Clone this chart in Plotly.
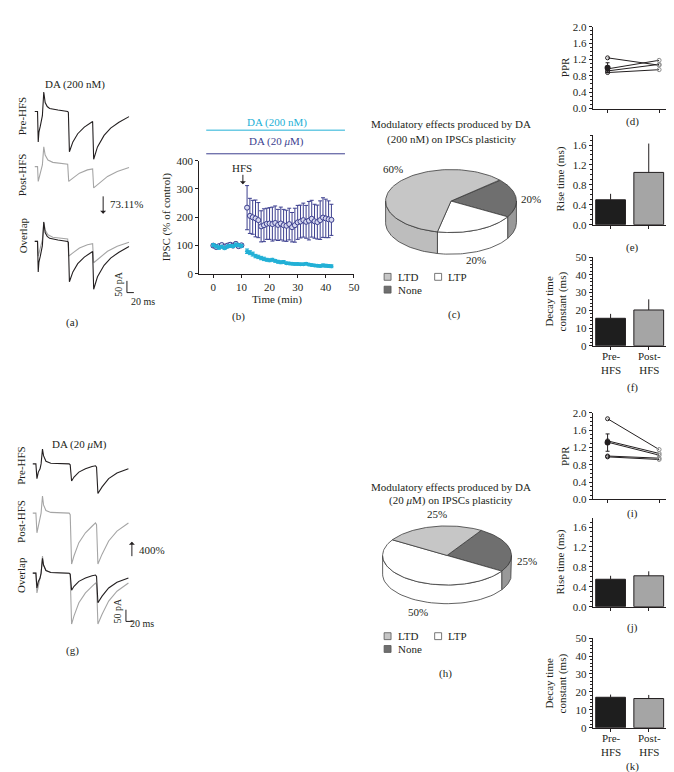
import numpy as np
import plotly.graph_objects as go

W, H = 674, 772
FONT = 'Liberation Serif'
INK = '#231f20'
GREY = '#a5a5a5'
CYAN = '#22b0d6'
NAVY = '#3c3f8f'

# ---------------- data ----------------
# (a) DA 200 nM example traces: time (ms), current (pA)
pre_a_t = [0, 8, 10, 12, 16, 22, 26, 30, 36, 43, 67, 95, 97, 100, 110, 124, 143, 162, 167, 170, 181, 200, 219, 243, 272]
pre_a_i = [0, 0, -130, -88, -63, -18, 83, 38, 21, 13, 6, 0, -4, -172, -130, -95, -67, -49, -43, -204, -151, -102, -71, -46, -22]
post_a_t = [0, 8, 10, 14, 19, 22, 26, 30, 38, 52, 95, 98, 110, 129, 152, 167, 170, 186, 210, 238, 272]
post_a_i = [0, 0, -63, -35, -14, 7, 84, 49, 28, 18, 10, -63, -49, -28, -14, -10, -91, -70, -42, -21, -4]

# (g) DA 20 uM example traces
pre_g_t = [0, 9, 12, 16, 21, 24, 28, 31, 38, 52, 105, 108, 112, 119, 133, 152, 171, 181, 184, 188, 200, 219, 243, 276]
pre_g_i = [0, 0, -63, -35, -21, 0, 63, 35, 11, 3, 0, -4, -73, -56, -35, -21, -11, -8, -14, -126, -98, -63, -39, -21]
post_g_t = [0, 9, 12, 16, 21, 24, 28, 31, 38, 52, 105, 108, 112, 119, 133, 152, 171, 181, 184, 188, 200, 219, 243, 276]
post_g_i = [0, 0, -84, -56, -21, 0, 73, 35, 11, 3, 0, -7, -217, -182, -126, -84, -56, -42, -49, -217, -175, -119, -77, -42]

# (b) IPSC time course (% of control)
time_pre = [0, 1, 2, 3, 4, 5, 6, 7, 8, 9, 10]
time_post = [12, 13, 14, 15, 16, 17, 18, 19, 20, 21, 22, 23, 24, 25, 26, 27, 28, 29, 30,
             31, 32, 33, 34, 35, 36, 37, 38, 39, 40, 41, 42]
da200_pre = [102, 97, 93, 96, 91, 97, 99, 98, 103, 101, 99]
da200_pre_err = [5, 5, 6, 5, 5, 5, 5, 5, 6, 5, 5]
da200_post = [80, 75, 70, 63, 60, 56, 53, 50, 48, 50, 46, 43, 41, 42, 38, 37, 36, 35, 35, 34,
              34, 36, 33, 31, 30, 29, 28, 30, 29, 28, 27]
da200_post_err = [8, 7, 7, 6, 6, 6, 6, 5, 5, 5, 5, 5, 5, 5, 4, 4, 4, 4, 4, 4,
                  4, 4, 4, 4, 4, 4, 4, 5, 5, 5, 5]
da20_pre = [100, 95, 98, 102, 96, 100, 103, 100, 106, 98, 101]
da20_pre_err = [6, 5, 6, 5, 6, 5, 6, 5, 6, 6, 5]
da20_post = [234, 205, 200, 196, 190, 168, 172, 177, 178, 176, 180, 173, 178, 172, 170, 176,
             165, 172, 182, 185, 190, 184, 188, 195, 186, 183, 190, 199, 196, 193, 191]
da20_post_err = [78, 62, 60, 65, 62, 55, 58, 55, 56, 60, 60, 55, 58, 56, 55, 56,
                 52, 60, 60, 58, 60, 58, 68, 65, 60, 60, 68, 70, 68, 65, 55]

# (c), (h) pies
pie_labels = ['LTD', 'LTP', 'None']
pie_200 = [60, 20, 20]
pie_20 = [25, 50, 25]

# (d), (i) paired-pulse ratio per cell
ppr_200_pre = [1.24, 0.97, 0.92, 0.88]
ppr_200_post = [1.06, 1.18, 1.08, 0.95]
ppr_200_mean, ppr_200_sem = 1.00, 0.12
ppr_20_pre = [1.86, 1.35, 1.32, 1.00, 0.98]
ppr_20_post = [1.15, 1.06, 1.02, 0.95, 0.92]
ppr_20_mean, ppr_20_sem = 1.31, 0.20

# (e), (f), (j), (k) kinetics
groups = ['Pre-<br>HFS', 'Post-<br>HFS']
rise_200, rise_200_err = [0.50, 1.05], [0.12, 0.58]
decay_200, decay_200_err = [15.5, 20.2], [2.5, 6.0]
rise_20, rise_20_err = [0.55, 0.62], [0.07, 0.09]
decay_20, decay_20_err = [17.0, 16.3], [1.5, 2.0]

# ---------------- layout helpers ----------------
MS_PER_PX, PA_PER_PX = 2.86, 4.2
axes = {}


def ref(n):
    return ('x', 'y') if n == 1 else (f'x{n}', f'y{n}')


def add_axes(n, x0, x1, y0, y1, xr, yr, xs=None, ys=None):
    xn, yn = ('xaxis', 'yaxis') if n == 1 else (f'xaxis{n}', f'yaxis{n}')
    xa, ya = ref(n)
    base = dict(showgrid=False, zeroline=False, fixedrange=True, visible=False)
    axes[xn] = dict(base, domain=[x0 / W, x1 / W], range=xr, anchor=ya)
    axes[yn] = dict(base, domain=[1 - y1 / H, 1 - y0 / H], range=yr, anchor=xa)
    if xs is not None:
        axes[xn].update(xs, visible=True)
    if ys is not None:
        axes[yn].update(ys, visible=True)


def style(**kw):
    d = dict(showline=True, linecolor=INK, linewidth=1, ticks='outside', ticklen=3,
             tickwidth=1, tickcolor=INK, tickfont=dict(family=FONT, size=11, color=INK))
    d.update(kw)
    return d


annots = []
shapes = []


def text(x, y, s, size=11, color=INK, angle=0, anchor='center'):
    annots.append(dict(x=x / W, y=1 - y / H, xref='paper', yref='paper', text=s,
                       showarrow=False, textangle=angle, xanchor=anchor, yanchor='middle',
                       font=dict(family=FONT, size=size, color=color)))


def arrow(x, y_tail, y_head, color=INK):
    annots.append(dict(x=x / W, y=1 - y_head / H, xref='paper', yref='paper', text='',
                       showarrow=True, ax=0, ay=y_tail - y_head, arrowhead=1,
                       arrowsize=1, arrowwidth=1, arrowcolor=color))


fig = go.Figure()

# ---------------- (a) and (g) traces ----------------
def trace_panel(n, top, t0_px, rows, pre_t, pre_i, post_t, post_i, bar_px):
    add_axes(n, 20, 150, top, top + 240,
             [(20 - t0_px) * MS_PER_PX, (150 - t0_px) * MS_PER_PX],
             [-240 * PA_PER_PX, 0])
    xa, ya = ref(n)
    off = [-(r - top) * PA_PER_PX for r in rows]
    pre_i, post_i = np.array(pre_i), np.array(post_i)
    fig.add_trace(go.Scatter(x=pre_t, y=pre_i + off[0], mode='lines',
                             line=dict(color=INK, width=1.1), xaxis=xa, yaxis=ya))
    fig.add_trace(go.Scatter(x=post_t, y=post_i + off[1], mode='lines',
                             line=dict(color=GREY, width=1.1), xaxis=xa, yaxis=ya))
    fig.add_trace(go.Scatter(x=post_t, y=post_i + off[2], mode='lines',
                             line=dict(color=GREY, width=1.1), xaxis=xa, yaxis=ya))
    fig.add_trace(go.Scatter(x=pre_t, y=pre_i + off[2], mode='lines',
                             line=dict(color=INK, width=1.1), xaxis=xa, yaxis=ya))
    bx = (bar_px[0] - t0_px) * MS_PER_PX
    by = -(bar_px[1] - top) * PA_PER_PX
    fig.add_trace(go.Scatter(x=[bx, bx, bx + 20], y=[by + 50, by, by], mode='lines',
                             line=dict(color=INK, width=1), xaxis=xa, yaxis=ya))


trace_panel(1, 60, 27, [99, 155, 231], pre_a_t, pre_a_i, post_a_t, post_a_i, (120, 283))
trace_panel(6, 420, 25, [457, 507, 568], pre_g_t, pre_g_i, post_g_t, post_g_i, (119, 617))

text(68, 72, 'DA (200 nM)')
text(15, 103, 'Pre-HFS', angle=-90)
text(15, 163, 'Post-HFS', angle=-90)
text(15, 225, 'Overlap', angle=-90)
arrow(96, 184, 203)
text(101, 193, '73.11%', anchor='left')
text(112, 274, '50 pA', size=10, angle=-90)
text(136, 292, '20 ms', size=10)
text(65, 313, '(a)')

text(72, 437, 'DA (20 <i>μ</i>M)')
text(13, 458, 'Pre-HFS', angle=-90)
text(13, 515, 'Post-HFS', angle=-90)
text(13, 570, 'Overlap', angle=-90)
arrow(125, 552, 536)
text(130, 544, '400%', anchor='left')
text(111, 606, '50 pA', size=10, angle=-90)
text(135, 619, '20 ms', size=10)
text(65, 647, '(g)')

# ---------------- (b) time course ----------------
add_axes(2, 193, 349, 149, 264, [-5, 50], [0, 400],
         xs=style(tickvals=[0, 10, 20, 30, 40, 50]),
         ys=style(tickvals=[0, 100, 200, 300, 400]))
for t, v, e in [(time_pre, da20_pre, da20_pre_err), (time_post, da20_post, da20_post_err)]:
    fig.add_trace(go.Scatter(x=t, y=v, mode='markers', xaxis='x2', yaxis='y2',
                             error_y=dict(type='data', array=e, color=NAVY, thickness=1, width=2),
                             marker=dict(symbol='circle', size=5, color='#d6d8f0',
                                         line=dict(color=NAVY, width=1))))
for t, v, e in [(time_pre, da200_pre, da200_pre_err), (time_post, da200_post, da200_post_err)]:
    fig.add_trace(go.Scatter(x=t, y=v, mode='markers', xaxis='x2', yaxis='y2',
                             error_y=dict(type='data', array=e, color=CYAN, thickness=1, width=2),
                             marker=dict(symbol='circle', size=4, color=CYAN)))
text(271, 110, 'DA (200 nM)', color=CYAN)
text(271, 130, 'DA (20 <i>μ</i>M)', color=NAVY)
shapes.append(dict(type='line', xref='paper', yref='paper', x0=200 / W, x1=340 / W,
                   y0=1 - 118 / H, y1=1 - 118 / H, line=dict(color=CYAN, width=1)))
shapes.append(dict(type='line', xref='paper', yref='paper', x0=200 / W, x1=340 / W,
                   y0=1 - 142 / H, y1=1 - 142 / H, line=dict(color=NAVY, width=1)))
text(236, 156, 'HFS')
arrow(237, 162, 173)
text(160, 206, 'IPSC (% of control)', angle=-90)
text(271, 290, 'Time (min)')
text(233, 307, '(b)')

# ---------------- (c), (h) 3-D pies ----------------
add_axes(10, 0, W, 0, H, [0, W], [-H, 0])
TOP = {'LTD': '#c6c6c6', 'LTP': '#ffffff', 'None': '#6f6f6f'}
SIDE = {'LTD': '#bdbdbd', 'LTP': '#ffffff', 'None': '#999999'}
EDGE = dict(color='#3a3a3a', width=0.8)


def pie3d(vals, order, start, cx, cy, a, b, depth):
    fr = np.array([vals[k] for k in order], float) / sum(vals)
    edges = start - 360 * np.concatenate([[0], np.cumsum(fr)])
    for j, k in enumerate(order):
        hi_a, lo_a = edges[j], edges[j + 1]
        for sh in (-360, 0, 360):
            lo, hi = max(lo_a, -180 + sh), min(hi_a, sh)
            if hi - lo > 0.01:
                th = np.radians(np.linspace(lo, hi, 40))
                xs, ys = cx + a * np.cos(th), cy + b * np.sin(th)
                X = np.concatenate([xs, xs[::-1], xs[:1]])
                Y = np.concatenate([ys, ys[::-1] - depth, ys[:1]])
                fig.add_trace(go.Scatter(x=X, y=Y, mode='lines', fill='toself',
                                         fillcolor=SIDE[pie_labels[k]], line=EDGE,
                                         xaxis='x10', yaxis='y10'))
    for j, k in enumerate(order):
        th = np.radians(np.linspace(edges[j], edges[j + 1], 90))
        X = np.concatenate([[cx], cx + a * np.cos(th), [cx]])
        Y = np.concatenate([[cy], cy + b * np.sin(th), [cy]])
        fig.add_trace(go.Scatter(x=X, y=Y, mode='lines', fill='toself',
                                 fillcolor=TOP[pie_labels[k]], line=EDGE,
                                 xaxis='x10', yaxis='y10'))


def pie_legend(y1, y2):
    for (x, y, lab) in [(383, y1, 'LTD'), (434, y1, 'LTP'), (383, y2, 'None')]:
        shapes.append(dict(type='rect', xref='paper', yref='paper',
                           x0=(x - 3.5) / W, x1=(x + 3.5) / W, y0=1 - (y + 3.5) / H,
                           y1=1 - (y - 3.5) / H, fillcolor=TOP[lab],
                           line=dict(color='#555555', width=0.8)))
        text(x + 8, y, lab, anchor='left')


pie3d(pie_200, [2, 1, 0], 42, 447, -190, 66, 32, 22)
text(447, 112, 'Modulatory effects produced by DA')
text(447, 127, '(200 nM) on IPSCs plasticity')
text(388, 157, f'{pie_200[0]}%')
text(528, 188, f'{pie_200[2]}%')
text(472, 250, f'{pie_200[1]}%')
pie_legend(267, 280)
text(451, 305, '(c)')

pie3d(pie_20, [2, 1, 0], 58, 443, -550, 65, 30, 19)
text(447, 480, 'Modulatory effects produced by DA')
text(447, 494, '(20 <i>μ</i>M) on IPSCs plasticity')
text(433, 508, f'{pie_20[0]}%')
text(524, 556, f'{pie_20[2]}%')
text(414, 607, f'{pie_20[1]}%')
pie_legend(632, 645)
text(441, 670, '(h)')

# ---------------- PPR panels ----------------
def ppr_panel(n, top, bot, pre, post, mean, sem):
    add_axes(n, 590, 667, top, bot, [-0.288, 1.193], [0, 2.0],
             xs=style(tickvals=[0, 1], showticklabels=False),
             ys=style(tickvals=[0, 0.4, 0.8, 1.2, 1.6, 2.0], tickformat='.1f',
                      minor=dict(ticks='outside', ticklen=2, dtick=0.1, tickcolor=INK)))
    xa, ya = ref(n)
    for p, q in zip(pre, post):
        fig.add_trace(go.Scatter(x=[0, 1], y=[p, q], mode='lines+markers', xaxis=xa, yaxis=ya,
                                 line=dict(color=INK, width=1),
                                 marker=dict(symbol='circle-open', size=4, color=[INK, '#8c8c8c'])))
    fig.add_trace(go.Scatter(x=[0], y=[mean], mode='markers', xaxis=xa, yaxis=ya,
                             error_y=dict(type='data', array=[sem], color=INK, thickness=1, width=2),
                             marker=dict(symbol='circle', size=6, color=INK)))


def bar_panel(n, top, bot, vals, errs, ymax, ticks, minor, labels):
    add_axes(n, 590, 667, top, bot, [-0.4675, 1.5325], [0, ymax],
             xs=style(tickvals=[0, 1], showticklabels=False),
             ys=style(tickvals=ticks, tickformat='.1f' if ymax < 5 else 'd',
                      minor=dict(ticks='outside', ticklen=2, dtick=minor, tickcolor=INK)))
    xa, ya = ref(n)
    fig.add_trace(go.Bar(x=[0, 1], y=vals, width=0.78, xaxis=xa, yaxis=ya,
                         marker=dict(color=['#1e1e1e', GREY], line=dict(color=INK, width=1)),
                         error_y=dict(type='data', array=errs, arrayminus=[0, 0],
                                      color=INK, thickness=1, width=0)))
    if labels:
        for cx, g in zip((608, 647), groups):
            text(cx, bot + 18, g)


ppr_panel(3, 13, 96, ppr_200_pre, ppr_200_post, ppr_200_mean, ppr_200_sem)
bar_panel(4, 123, 214, rise_200, rise_200_err, 1.8, [0, 0.4, 0.8, 1.2, 1.6], 0.1, False)
bar_panel(5, 247, 337, decay_200, decay_200_err, 50, [0, 10, 20, 30, 40, 50], 2, True)
ppr_panel(7, 405, 493, ppr_20_pre, ppr_20_post, ppr_20_mean, ppr_20_sem)
bar_panel(8, 512, 602, rise_20, rise_20_err, 1.78, [0, 0.4, 0.8, 1.2, 1.6], 0.1, False)
bar_panel(9, 634, 725, decay_20, decay_20_err, 50, [0, 10, 20, 30, 40, 50], 2, True)

for cy in (54, 449):
    text(562, cy, 'PPR', angle=-90)
for cy in (168, 557):
    text(557, cy, 'Rise time (ms)', angle=-90)
for cy in (292, 680):
    text(546, cy, 'Decay time', angle=-90)
    text(559, cy, 'constant (ms)', angle=-90)
for cy, lab in [(109, '(d)'), (237, '(e)'), (379, '(f)'), (507, '(i)'), (623, '(j)'), (764, '(k)')]:
    text(630, cy, lab)

fig.update_layout(**axes)
fig.update_layout(width=W, height=H, margin=dict(l=0, r=0, t=0, b=0),
                  paper_bgcolor='white', plot_bgcolor='rgba(0,0,0,0)',
                  showlegend=False, annotations=annots, shapes=shapes,
                  font=dict(family=FONT, size=11, color=INK))
fig.write_html("out.html")
